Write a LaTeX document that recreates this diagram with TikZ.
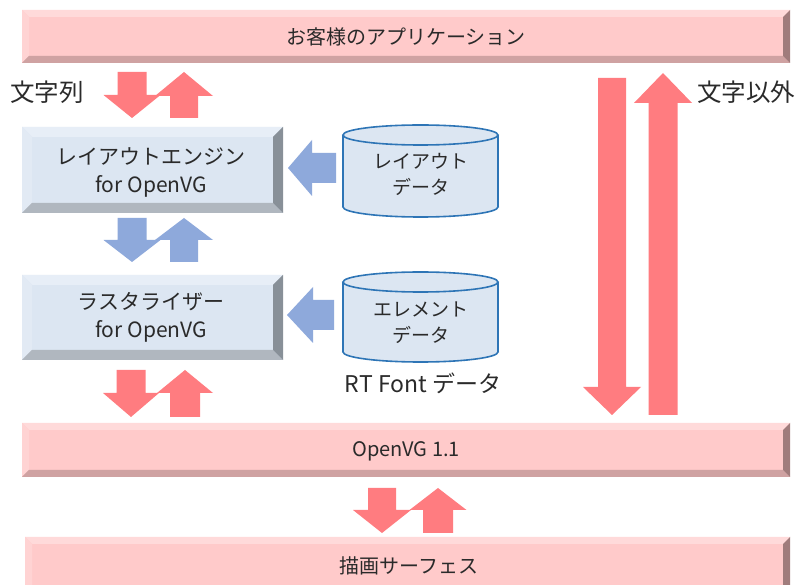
\documentclass[tikz,border=0pt]{standalone}
\usepackage{fontspec}
\setmainfont{Noto Sans CJK JP}
\definecolor{pinkC}{HTML}{FFCACA}
\definecolor{pinkT}{HTML}{FFDADA}
\definecolor{pinkL}{HTML}{FFD3D3}
\definecolor{pinkB}{HTML}{CFA2A2}
\definecolor{pinkR}{HTML}{A07C7C}
\definecolor{blueC}{HTML}{DCE6F2}
\definecolor{blueT}{HTML}{E7EEF7}
\definecolor{blueL}{HTML}{E2EAF4}
\definecolor{blueB}{HTML}{B0B7BF}
\definecolor{blueR}{HTML}{889098}
\definecolor{arrRed}{HTML}{FF7C80}
\definecolor{arrBlue}{HTML}{8EA9DB}
\definecolor{cylLine}{HTML}{2E75B6}
\definecolor{txt}{HTML}{2A2A2A}
% bevelled rectangle: x1 y1 x2 y2 bevel colourprefix
\newcommand\bevelrect[6]{%
  \fill[#6C] (#1,#2) rectangle (#3,#4);
  \fill[#6T] (#1,#2) -- (#3,#2) -- (#3-#5,#2+#5) -- (#1+#5,#2+#5) -- cycle;
  \fill[#6L] (#1,#2) -- (#1+#5,#2+#5) -- (#1+#5,#4-#5) -- (#1,#4) -- cycle;
  \fill[#6B] (#1,#4) -- (#1+#5,#4-#5) -- (#3-#5,#4-#5) -- (#3,#4) -- cycle;
  \fill[#6R] (#3,#2) -- (#3,#4) -- (#3-#5,#4-#5) -- (#3-#5,#2+#5) -- cycle;}
% block arrows
\newcommand\blkdown[7]{% cx ytop ytip shafthalf headhalf headlen colour
  \fill[#7] (#1-#4,#2) -- (#1+#4,#2) -- (#1+#4,#3-#6) -- (#1+#5,#3-#6) -- (#1,#3)
    -- (#1-#5,#3-#6) -- (#1-#4,#3-#6) -- cycle;}
\newcommand\blkup[7]{% cx ytip ybot shafthalf headhalf headlen colour
  \fill[#7] (#1,#2) -- (#1+#5,#2+#6) -- (#1+#4,#2+#6) -- (#1+#4,#3) -- (#1-#4,#3)
    -- (#1-#4,#2+#6) -- (#1-#5,#2+#6) -- cycle;}
\newcommand\blkleft[7]{% xtip cy xend shafthalf headhalf headlen colour
  \fill[#7] (#1,#2) -- (#1+#6,#2-#5) -- (#1+#6,#2-#4) -- (#3,#2-#4) -- (#3,#2+#4)
    -- (#1+#6,#2+#4) -- (#1+#6,#2+#5) -- cycle;}
% cylinder: x1 ytop x2 ybot ry
\newcommand\cyl[5]{%
  \filldraw[fill=blueC, draw=cylLine, line width=1.6pt] ({(#1+#3)/2},#4-#5) ellipse [x radius={(#3-#1)/2*1pt}, y radius=#5pt];
  \fill[blueC] (#1,#2+#5) rectangle (#3,#4-#5);
  \draw[cylLine, line width=1.6pt] (#1,#2+#5) -- (#1,#4-#5) (#3,#2+#5) -- (#3,#4-#5);
  \filldraw[fill=blueC, draw=cylLine, line width=1.6pt] ({(#1+#3)/2},#2+#5) ellipse [x radius={(#3-#1)/2*1pt}, y radius=#5pt];}
\tikzset{
  lbl/.style={text=txt, font=\fontsize{20}{26}\selectfont, inner sep=0pt, align=center},
  boxlbl/.style={text=txt, font=\fontsize{21}{28}\selectfont, inner sep=0pt, align=center},
  cyllbl/.style={text=txt, font=\fontsize{19}{26}\selectfont, inner sep=0pt, align=center},
  biglbl/.style={text=txt, font=\fontsize{23}{26}\selectfont, inner sep=0pt},
  sidelbl/.style={text=txt, font=\fontsize{24.5}{26}\selectfont, inner sep=0pt}
}
\begin{document}
\begin{tikzpicture}[x=1pt,y=-1pt]
\useasboundingbox (0,0) rectangle (807,585);
\clip (0,0) rectangle (807,585);
\fill[white] (0,0) rectangle (807,585);
% bars
\bevelrect{22}{10}{790}{63}{7}{pink}
\node[lbl] (app) at (406,37) {お客様のアプリケーション};
\bevelrect{22}{423}{790}{477}{7}{pink}
\node[lbl] (ovg) at (406,451) {OpenVG 1.1};
\bevelrect{25}{537}{790}{600}{7}{pink}
\node[lbl] (surf) at (409,566) {描画サーフェス};
% boxes
\bevelrect{22}{127}{283}{213}{10}{blue}
\node[boxlbl] (layout) at (151,172) {レイアウトエンジン\\for OpenVG};
\bevelrect{22}{275}{283}{360}{10}{blue}
\node[boxlbl] (rast) at (151,317) {ラスタライザー\\for OpenVG};
% cylinders
\cyl{343}{125}{498}{217}{10}
\node[cyllbl] (ldata) at (421,174) {レイアウト\\データ};
\cyl{343}{272}{498}{362}{10}
\node[cyllbl] (edata) at (421,323) {エレメント\\データ};
\node[biglbl] (rtf) at (423,383) {RT Font データ};
% labels
\node[sidelbl, anchor=west] (mojiretsu) at (10,92) {文字列};
\node[sidelbl, anchor=west] (mojiigai) at (697,92) {文字以外};
% red arrows app <-> layout
\blkdown{132}{72}{118}{14.5}{28.5}{23}{arrRed}
\blkup{184}{72}{118}{14}{29}{24}{arrRed}
% blue arrows layout <-> rasterizer
\blkdown{132}{218}{262}{14.5}{28.5}{22}{arrBlue}
\blkup{184}{218}{262}{14}{29}{22}{arrBlue}
% red arrows rasterizer <-> OpenVG
\blkdown{131}{370}{417}{14.5}{28}{24}{arrRed}
\blkup{185}{370}{417}{15}{28}{23}{arrRed}
% red arrows OpenVG <-> surface
\blkdown{382}{488}{533}{14}{29}{23}{arrRed}
\blkup{438}{488}{533}{15}{28.5}{22}{arrRed}
% long red arrows
\blkdown{612}{78}{415}{14}{29}{28}{arrRed}
\blkup{663}{73}{415}{14.5}{29}{30}{arrRed}
% blue left arrows
\blkleft{288}{168}{336}{15}{28}{24}{arrBlue}
\blkleft{287}{315}{334}{15}{28}{26}{arrBlue}
\end{tikzpicture}
\end{document}
